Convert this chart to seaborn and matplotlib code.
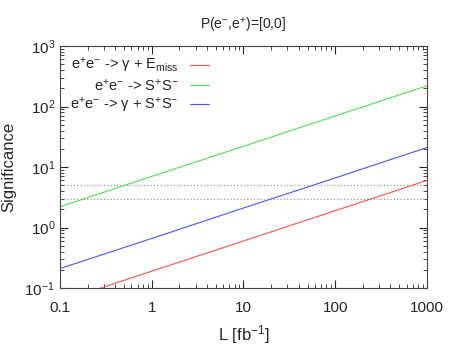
import numpy as np
import pandas as pd
import matplotlib
matplotlib.use("Agg")
import matplotlib.pyplot as plt
import matplotlib.ticker as mticker
import seaborn as sns

sns.set_style("ticks")
plt.rcParams['font.family'] = ['Liberation Sans', 'DejaVu Sans']
plt.rcParams['mathtext.fontset'] = 'custom'
plt.rcParams['mathtext.rm'] = 'Liberation Sans'
plt.rcParams['mathtext.it'] = 'Liberation Sans:italic'

# luminosity points (fb^-1) and significance
lumi = [0.1, 1, 10, 100, 1000]
sig_gamma_emiss = [0.06, 0.19, 0.6, 1.9, 6.0]
sig_ss = [2.2, 7.0, 22.0, 70.0, 220.0]
sig_gamma_ss = [0.21, 0.66, 2.1, 6.6, 21.0]
thresholds = [3, 5]

labels = [r'e$^{+}$e$^{-}$ -> γ + E$_{\rm miss}$',
          r'e$^{+}$e$^{-}$ -> S$^{+}$S$^{-}$',
          r'e$^{+}$e$^{-}$ -> γ + S$^{+}$S$^{-}$']
colors = ['#ff5050', '#50e050', '#5050ff']

fig = plt.figure(figsize=(4.53, 3.54), dpi=100)
ax = fig.add_axes([0.1325, 0.1864, 0.81, 0.6836])
ax.set_xscale('log')
ax.set_yscale('log')

for ys, lab, c in zip([sig_gamma_emiss, sig_ss, sig_gamma_ss], labels, colors):
    sns.lineplot(x=lumi, y=ys, ax=ax, color=c, linewidth=0.8, label=lab)

for t in thresholds:
    ax.axhline(t, color='#888888', linewidth=0.8, linestyle=(0, (1, 2)))

ax.set_xlim(0.1, 1000)
ax.set_ylim(0.1, 1000)
ax.xaxis.set_major_formatter(mticker.FuncFormatter(lambda v, p: f'{v:g}'))
ax.yaxis.set_major_locator(mticker.LogLocator(base=10, numticks=10))
ax.tick_params(which='both', direction='in', top=True, right=True, labelsize=11)
ax.tick_params(which='major', length=6, width=0.8)
ax.tick_params(which='minor', length=3, width=0.6)
ax.tick_params(axis='x', which='major', pad=9)
for s in ax.spines.values():
    s.set_linewidth(0.8)
    s.set_color('#444444')

ax.set_xlabel(r'L [fb$^{-1}$]', fontsize=12, labelpad=6)
ax.set_ylabel('Significance', fontsize=12, labelpad=6)
ax.set_title(r'P(e$^{-}$,e$^{+}$)=[0,0]', fontsize=10, pad=12)

leg = ax.legend(loc='upper left', markerfirst=False, frameon=False,
                fontsize=10.5, handlelength=1.3, labelspacing=0.15,
                borderaxespad=0.3, handletextpad=0.8)
for t in leg.get_texts():
    t.set_ha('right')

fig.savefig('out.png', dpi=100)
